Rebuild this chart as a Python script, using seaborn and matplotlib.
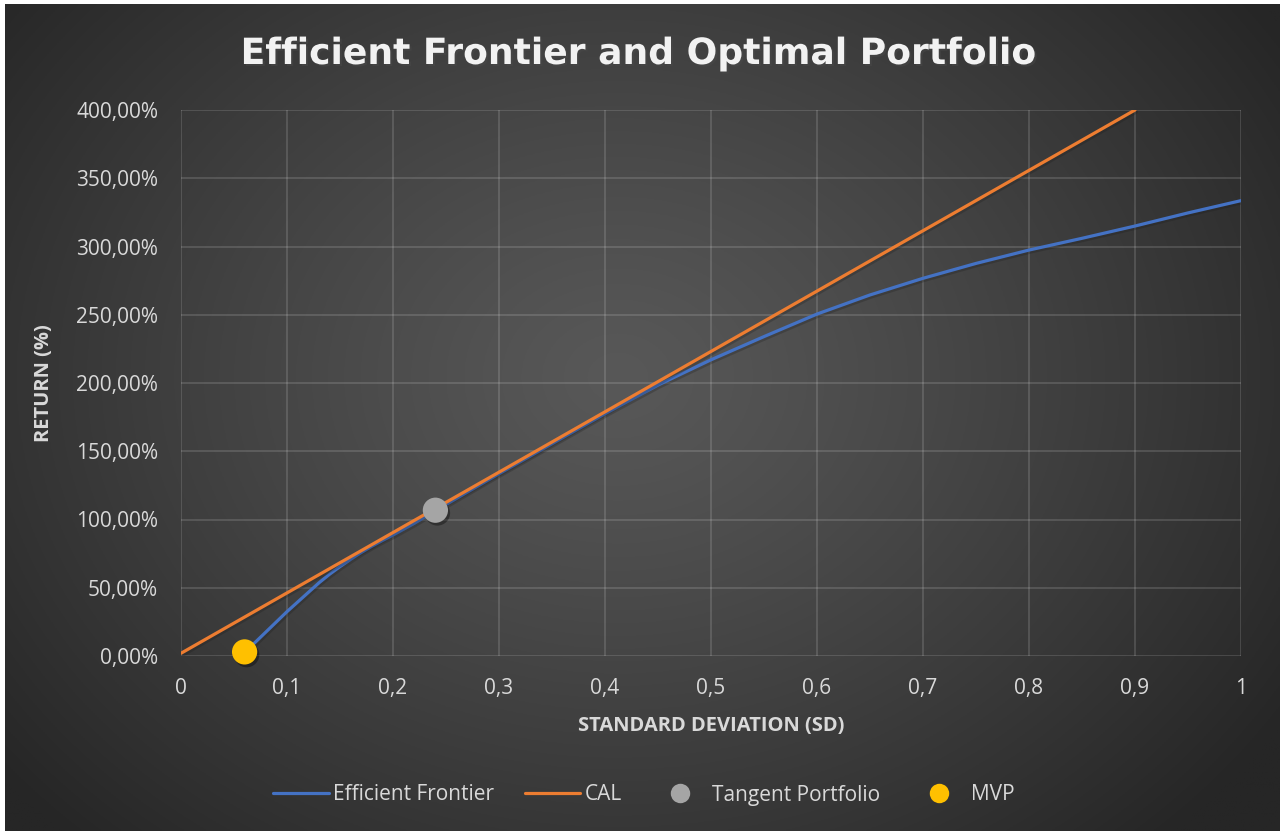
import numpy as np
import pandas as pd
import matplotlib
matplotlib.use("Agg")
import matplotlib.pyplot as plt
import matplotlib.patheffects as pe
from matplotlib.lines import Line2D
from matplotlib.ticker import FuncFormatter, MultipleLocator
import seaborn as sns

# ---- data ----
frontier_sd = [0.06, 0.07, 0.08, 0.09, 0.10, 0.11, 0.12, 0.13, 0.14, 0.15, 0.16, 0.17, 0.18,
               0.19, 0.20, 0.22, 0.24, 0.27, 0.30, 0.35, 0.40, 0.45, 0.50, 0.55, 0.60,
               0.65, 0.70, 0.75, 0.80, 0.85, 0.90, 0.95, 1.00]
frontier_ret = [3, 10, 17.5, 25, 32.5, 39.5, 46.5, 53.5, 59.8, 65.5, 70.8, 75.8, 80.4,
                84.6, 88.6, 97.2, 106.4, 120, 133.5, 155.5, 177.5, 198.5, 217, 234, 250.5,
                264.5, 276.7, 287.6, 297.4, 306, 315, 324.6, 333.6]
cal_sd = [0.0, 0.9]
cal_ret = [2, 400]
tangent_sd = [0.24]
tangent_ret = [106.8]
mvp_sd = [0.06]
mvp_ret = [3]

title = "Efficient Frontier and Optimal Portfolio"
x_label = "STANDARD DEVIATION (SD)"
y_label = "RETURN (%)"
legend_labels = ["Efficient Frontier", "CAL", "Tangent Portfolio", "MVP"]

c_blue = "#4472C4"
c_orange = "#ED7D31"
c_gray = "#A5A5A5"
c_gold = "#FFC000"
txt = "#D9D9D9"

sns.set_theme(style="dark")
plt.rcParams["font.family"] = ["Open Sans", "DejaVu Sans"]

W, H = 1280, 831
fig = plt.figure(figsize=(W / 100, H / 100), dpi=100, facecolor="white")

# background radial gradient (chart area slightly inset at top/left)
bg = fig.add_axes([5 / W, 0, 1 - 5 / W, 1 - 4 / H], zorder=-10)
yy, xx = np.mgrid[0:400, 0:640]
cx, cy = 0.48 * 640, 0.45 * 400
r = np.sqrt(((xx - cx) / 640) ** 2 + ((yy - cy) / 400) ** 2 * 0.65)
r = np.clip(r / 0.62, 0, 1)
lo, hi = 0x26 / 255, 0x58 / 255
val = hi - (hi - lo) * r ** 1.2
img = np.dstack([val, val, val])
bg.imshow(img, aspect="auto", extent=[0, 1, 0, 1], origin="upper")
bg.set_axis_off()

ax = fig.add_axes([181 / W, 1 - 656 / H, (1241 - 181) / W, (656 - 110) / H])
ax.set_facecolor("none")

df_f = pd.DataFrame({"sd": frontier_sd, "ret": frontier_ret})
df_c = pd.DataFrame({"sd": cal_sd, "ret": cal_ret})
line_shadow = [pe.SimpleLineShadow(offset=(1, -1.5), alpha=0.25), pe.Normal()]
sns.lineplot(data=df_f, x="sd", y="ret", ax=ax, color=c_blue, lw=2.3, sort=False, zorder=3,
             path_effects=line_shadow)
sns.lineplot(data=df_c, x="sd", y="ret", ax=ax, color=c_orange, lw=2.3, sort=False, zorder=4,
             path_effects=line_shadow)
shadow = [pe.SimplePatchShadow(offset=(1.5, -2), shadow_rgbFace="black", alpha=0.35), pe.Normal()]
sns.scatterplot(x=tangent_sd, y=tangent_ret, ax=ax, color=c_gray, s=330, edgecolor="none", zorder=5)
sns.scatterplot(x=mvp_sd, y=mvp_ret, ax=ax, color=c_gold, s=330, edgecolor="none", zorder=5)
for coll in ax.collections:
    coll.set_path_effects(shadow)
    coll.set_clip_on(False)

ax.set_xlim(0, 1)
ax.set_ylim(0, 400)
ax.xaxis.set_major_locator(MultipleLocator(0.1))
ax.yaxis.set_major_locator(MultipleLocator(50))
ax.xaxis.set_major_formatter(FuncFormatter(lambda v, p: ("%g" % round(v, 1)).replace(".", ",")))
ax.yaxis.set_major_formatter(FuncFormatter(lambda v, p: ("%.2f" % v).replace(".", ",") + "%"))
ax.grid(True, color="white", alpha=0.16, lw=1.2)
for s in ax.spines.values():
    s.set_visible(False)
ax.tick_params(axis="both", colors=txt, labelsize=15, length=0)
ax.tick_params(axis="x", pad=16)
ax.tick_params(axis="y", pad=16.5)

ax.set_xlabel(x_label, color=txt, fontsize=14.5, fontweight="bold", labelpad=12)
ax.set_ylabel(y_label, color=txt, fontsize=14.5, fontweight="bold", labelpad=16)

fig.text(639 / W, 1 - 64 / H, title, ha="center", va="baseline", color="#F2F2F2",
         fontsize=26, fontweight="bold", family=["DejaVu Sans"],
         path_effects=[pe.withSimplePatchShadow(offset=(1.5, -1.5), alpha=0.5)])

handles = [
    Line2D([0], [0], color=c_blue, lw=2.3),
    Line2D([0], [0], color=c_orange, lw=2.3),
    Line2D([0], [0], marker="o", color="none", markerfacecolor=c_gray, markeredgecolor="none", markersize=14),
    Line2D([0], [0], marker="o", color="none", markerfacecolor=c_gold, markeredgecolor="none", markersize=14),
]
leg = fig.legend(handles, legend_labels, loc="center", bbox_to_anchor=(644 / W, 1 - 795 / H), ncol=4,
                 frameon=False, fontsize=15, labelcolor=txt, handlelength=2.65,
                 handletextpad=0.2, columnspacing=1.5)

fig.savefig("out.png", dpi=100, facecolor=fig.get_facecolor())
